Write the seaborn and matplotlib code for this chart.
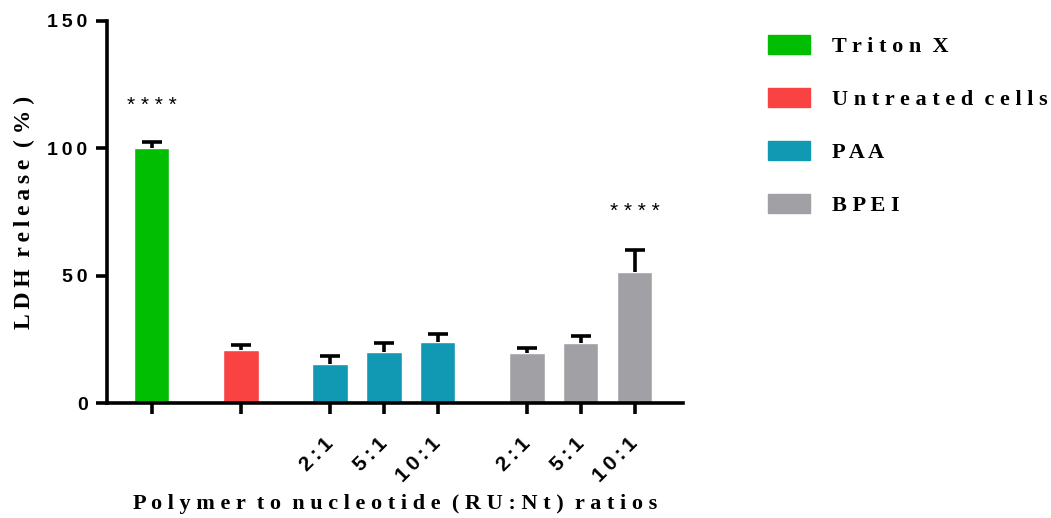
import matplotlib
matplotlib.use('Agg')
import matplotlib.pyplot as plt
import matplotlib.patches as mpatches
import pandas as pd
import seaborn as sns

# data
groups = ['Triton X', 'Untreated cells', 'PAA', 'PAA', 'PAA', 'BPEI', 'BPEI', 'BPEI']
ratios = ['', '', '2:1', '5:1', '10:1', '2:1', '5:1', '10:1']
xpos = [0, 1.65, 3.3, 4.3, 5.3, 6.95, 7.95, 8.95]
ldh = [100.0, 20.8, 15.3, 20.0, 24.0, 19.6, 23.6, 51.4]
sem = [2.3, 2.0, 3.2, 3.5, 3.0, 2.0, 2.7, 8.6]
stars = {0: 117, 7: 75}  # bar index -> y of the "****"
yticks = [0, 50, 100, 150]

legend_order = ['Triton X', 'Untreated cells', 'PAA', 'BPEI']
pal = {'Triton X': '#02BE02', 'Untreated cells': '#F94343',
       'PAA': '#1199B4', 'BPEI': '#A1A1A5'}

df = pd.DataFrame({'x': xpos, 'ldh': ldh, 'group': groups})

def spaced(s, sep=' ', wsep='  '):
    # the original has wide letter spacing
    return wsep.join(sep.join(w) for w in s.split())

sns.set_style('ticks', {'axes.edgecolor': 'black', 'xtick.color': 'black',
                        'ytick.color': 'black', 'text.color': 'black',
                        'axes.labelcolor': 'black'})
plt.rcParams['font.family'] = ['Liberation Sans', 'DejaVu Sans']

fig = plt.figure(figsize=(10.51, 5.18), dpi=100)
ax = fig.add_axes([0.1018, 0.222, 0.548, 0.7375])

sns.barplot(data=df, x='x', y='ldh', hue='group', palette=pal, native_scale=True,
            dodge=False, width=0.65, legend=False, errorbar=None, ax=ax, saturation=1)

# upper error bars only
tops = [v + e for v, e in zip(ldh, sem)]
ax.vlines(xpos, ldh, tops, color='black', lw=2.6, zorder=3)
ax.hlines(tops, [p - 0.18 for p in xpos], [p + 0.18 for p in xpos], color='black', lw=2.6, zorder=3)

for i, yy in stars.items():
    ax.text(xpos[i], yy, ' '.join('****'), ha='center', va='center', fontsize=15)

ax.set_xlim(-0.833, 9.84)
ax.set_ylim(0, 150)
ax.set_yticks(yticks)
ax.set_yticklabels(['\u2009'.join(str(t)) for t in yticks], fontsize=14, fontweight='bold')
ax.set_xticks(xpos)
ax.set_xticklabels(['\u2009'.join(r) for r in ratios], rotation=45, ha='right', va='center',
                   rotation_mode='anchor', fontsize=15, fontweight='bold')
ax.tick_params(axis='x', pad=19)
ax.tick_params(axis='y', pad=6)
ax.tick_params(width=2.6, length=8)

sns.despine(ax=ax)
for s in ['left', 'bottom']:
    ax.spines[s].set_linewidth(2.6)

serif = ['Liberation Serif', 'DejaVu Serif']
ax.set_ylabel(spaced('LDH release', '\u2009', '  ') + '  ( % )', family=serif,
              fontsize=17, fontweight='bold')
ax.yaxis.set_label_coords(-0.125, 0.5)
ax.set_xlabel(spaced('Polymer to nucleotide (RU:Nt) ratios'),
              family=serif, fontsize=16, fontweight='bold', labelpad=6)

handles = [mpatches.Patch(color=pal[g]) for g in legend_order]
labels = [spaced(g) for g in legend_order]
fig.legend(handles, labels, loc='upper left', bbox_to_anchor=(0.7307, 0.932), frameon=False,
           prop={'family': serif, 'size': 16, 'weight': 'bold'}, borderpad=0, borderaxespad=0,
           handlelength=1.9, handleheight=0.9, labelspacing=1.40, handletextpad=1.0)

fig.savefig('out.png', dpi=100)
